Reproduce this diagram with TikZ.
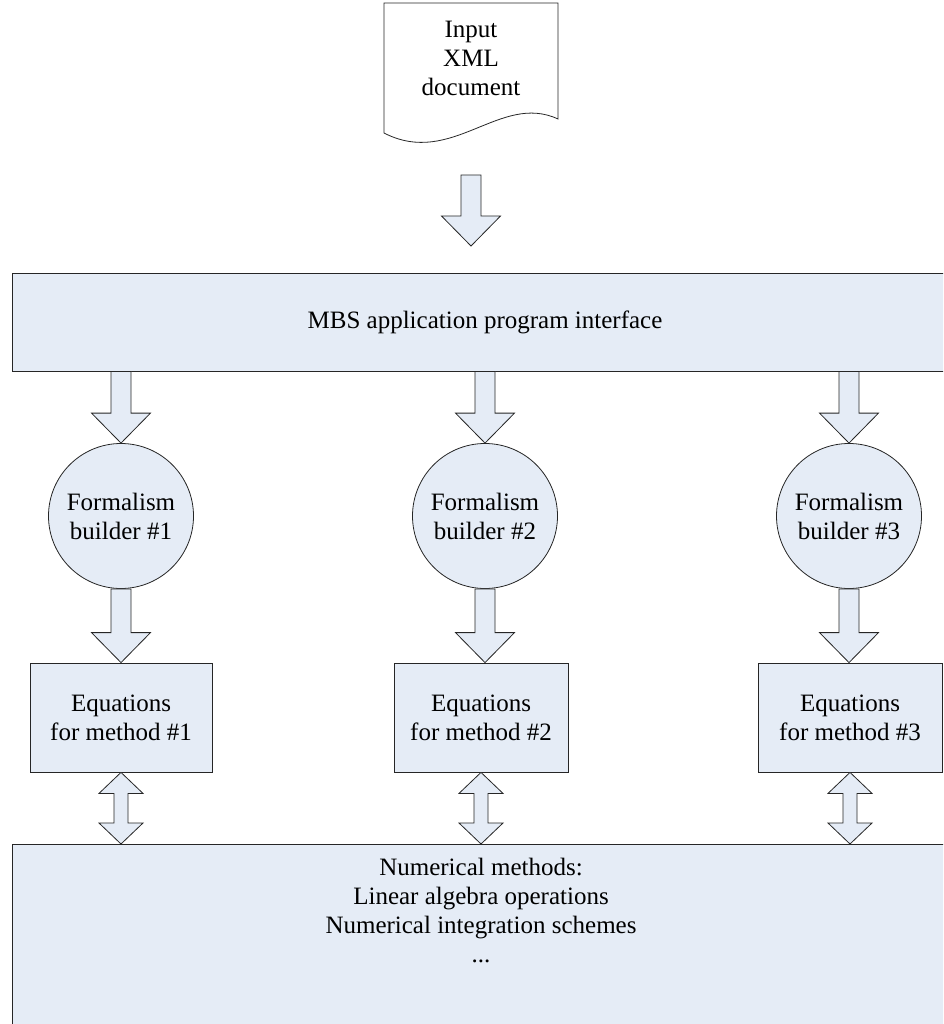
\documentclass[tikz,border=0pt]{standalone}
\usepackage{fontspec}
\setmainfont{Liberation Serif}
\usetikzlibrary{calc, positioning}

\definecolor{boxfill}{RGB}{229,236,246}

% fat block arrow from tail #1 straight down to tip #2
\newcommand{\fatarrow}[2]{%
  \draw[blk] let \p1=#1, \p2=#2 in
    (\x1-10,\y1) -- (\x1+10,\y1) -- (\x1+10,\y2+30) -- (\x1+29.5,\y2+30)
    -- (\x1,\y2) -- (\x1-29.5,\y2+30) -- (\x1-10,\y2+30) -- cycle;}

% two-headed block arrow between #1 (top tip) and #2 (bottom tip)
\newcommand{\dblarrow}[2]{%
  \draw[blk] let \p1=#1, \p2=#2 in
    (\x1,\y1) -- (\x1+22,\y1-21) -- (\x1+7,\y1-21) -- (\x1+7,\y2+21)
    -- (\x1+22,\y2+21) -- (\x1,\y2) -- (\x1-22,\y2+21) -- (\x1-7,\y2+21)
    -- (\x1-7,\y1-21) -- (\x1-22,\y1-21) -- cycle;}

\begin{document}
\begin{tikzpicture}[
  x=1pt, y=-1pt,
  every node/.style={font=\fontsize{25}{29}\selectfont, align=center},
  blk/.style={draw=black!85, line width=0.8pt, fill=boxfill, line join=miter},
  box/.style={blk, inner sep=0pt, minimum height=109},
  wide/.style={blk, inner sep=0pt, minimum width=946},
  builder/.style={blk, circle, inner sep=0pt, minimum size=145}
]
\path[use as bounding box, clip] (0,0) rectangle (943,1024);

%% ---- INPUT DOCUMENT ----------------------------------------------
\draw[blk, fill=white] (384,3) -- (558,3) -- (558,119)
  .. controls (500,92) and (452,168) .. (384,133) -- cycle;
\node (xml) at (471,58) {Input\\XML\\document};

\coordinate (xmlout) at (471,175);
\coordinate (apiin)  at (471,246);
\fatarrow{(xmlout)}{(apiin)}

%% ---- API ---------------------------------------------------------
\node[wide, minimum height=98] (api) at (485,322)
  {MBS application program interface};

%% ---- FORMALISM BUILDERS ------------------------------------------
\node[builder] (fb1) at (121,516) {Formalism\\builder \#1};
\node[builder] (fb2) at (485,516) {Formalism\\builder \#2};
\node[builder] (fb3) at (849,516) {Formalism\\builder \#3};

\foreach \b in {fb1, fb2, fb3}
  \fatarrow{(api.south -| \b.north)}{(\b.north)};

%% ---- EQUATIONS ---------------------------------------------------
\node[box, minimum width=182] (eq1) at (121,717.5) {Equations\\for method \#1};
\node[box, minimum width=174] (eq2) at (481,717.5) {Equations\\for method \#2};
\node[box, minimum width=184] (eq3) at (850,717.5) {Equations\\for method \#3};

\fatarrow{(fb1.south)}{(fb1.south |- eq1.north)}
\fatarrow{(fb2.south)}{(fb2.south |- eq2.north)}
\fatarrow{(fb3.south)}{(fb3.south |- eq3.north)}

%% ---- NUMERICAL METHODS -------------------------------------------
\node[wide, minimum height=260, anchor=north] (num) at (485,844) {};
\node (numtext) at (481,910)
  {Numerical methods:\\Linear algebra operations\\Numerical integration schemes\\...};

\foreach \e in {eq1, eq2, eq3}
  \dblarrow{(\e.south)}{(\e.south |- num.north)};

\end{tikzpicture}
\end{document}
